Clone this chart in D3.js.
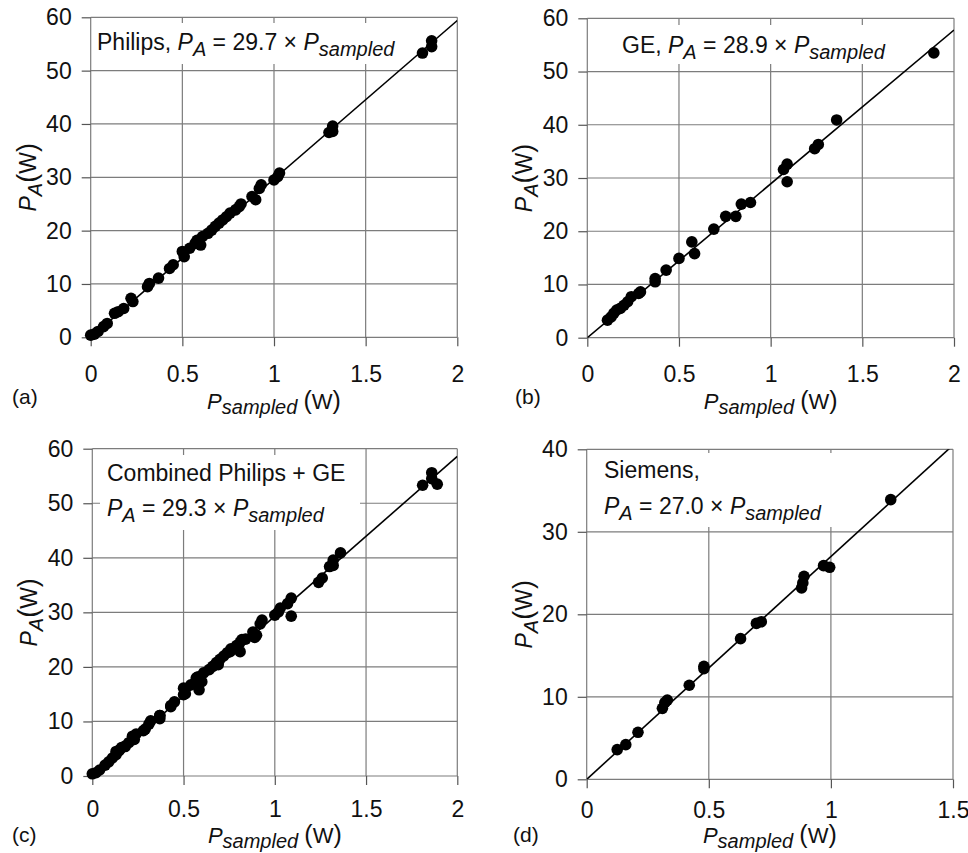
<!DOCTYPE html>
<html>
<head>
<meta charset="utf-8">
<script src="https://cdn.jsdelivr.net/npm/d3@7"></script>
<style>
  body { margin: 0; background: #fff; }
  svg { display: block; font-family: "Liberation Sans", Arial, sans-serif; }
  text { white-space: pre; }
</style>
</head>
<body>
<svg width="968" height="853"></svg>
<script>
// measured points, [P_sampled (W), P_A (W)]
var philips = [
  [0.00, 0.4], [0.02, 0.6], [0.04, 1.1], [0.07, 2.0], [0.09, 2.6],
  [0.13, 4.5], [0.15, 4.8], [0.18, 5.4], [0.22, 7.3], [0.23, 6.7],
  [0.31, 9.5], [0.32, 10.1], [0.37, 11.1], [0.43, 12.9], [0.45, 13.6],
  [0.50, 16.1], [0.51, 15.1], [0.54, 16.7], [0.57, 17.6], [0.58, 18.2],
  [0.60, 17.3], [0.61, 18.9], [0.64, 19.5], [0.66, 20.1], [0.68, 20.8],
  [0.70, 21.4], [0.72, 22.0], [0.74, 22.6], [0.76, 23.3], [0.79, 23.9],
  [0.81, 24.5], [0.82, 25.0], [0.88, 26.4], [0.90, 25.8], [0.92, 27.9],
  [0.93, 28.6], [1.00, 29.5], [1.02, 30.1], [1.03, 30.8], [1.30, 38.4],
  [1.32, 38.6], [1.32, 39.6], [1.81, 53.3], [1.86, 54.5], [1.86, 55.6]
];
var ge = [
  [0.11, 3.3], [0.13, 3.9], [0.145, 4.6], [0.16, 5.2], [0.18, 5.5],
  [0.20, 6.1], [0.22, 6.75], [0.24, 7.7], [0.28, 8.3], [0.29, 8.6],
  [0.37, 11.1], [0.37, 10.5], [0.43, 12.7], [0.50, 14.9], [0.57, 18.0],
  [0.585, 15.8], [0.69, 20.4], [0.755, 22.8], [0.81, 22.8], [0.84, 25.1],
  [0.89, 25.4], [1.07, 31.6], [1.09, 32.6], [1.09, 29.3], [1.24, 35.5],
  [1.26, 36.3], [1.36, 40.9], [1.89, 53.5]
];
var siemens = [
  [0.125, 3.6], [0.16, 4.2], [0.21, 5.7], [0.31, 8.6], [0.32, 9.3],
  [0.33, 9.6], [0.42, 11.4], [0.48, 13.4], [0.48, 13.7], [0.63, 17.05],
  [0.695, 18.9], [0.715, 19.1], [0.88, 23.2], [0.885, 23.8], [0.89, 24.6],
  [0.97, 25.9], [0.995, 25.7], [1.245, 33.9]
];
var combined = philips.concat(ge);

var slopes = [29.7, 28.9, 29.3, 27.0];
var panelLabels = ["(a)", "(b)", "(c)", "(d)"];
var xTicks2 = [0, 0.5, 1, 1.5, 2];
var xTicks15 = [0, 0.5, 1, 1.5];
var yTicks60 = [0, 10, 20, 30, 40, 50, 60];
var yTicks40 = [0, 10, 20, 30, 40];
// "_" marks a subscript, "P" is italic
var notes = [
  [["Philips, ", "P", "_A", " = 29.7 × ", "P", "_sampled"]],
  [["GE, ", "P", "_A", " = 28.9 × ", "P", "_sampled"]],
  [["Combined Philips + GE"], ["P", "_A", " = 29.3 × ", "P", "_sampled"]],
  [["Siemens,"], ["P", "_A", " = 27.0 × ", "P", "_sampled"]]
];
var xTitle = ["P", "_sampled", " ", "(", "W", ")"];
var yTitle = ["P", "_A", "(", "W", ")"];

// layout of the four panels
var panels = [
  {data: philips, left: 90.7, right: 457.3, top: 17.3, bottom: 337.3, xTicks: xTicks2, yTicks: yTicks60,
   box: [94, 23, 402, 64], noteX: 97, noteY: [50], labelX: 12, labelY: 404, titleY: 409, pad: 19},
  {data: ge, left: 587.3, right: 954, top: 18.3, bottom: 337.7, xTicks: xTicks2, yTicks: yTicks60,
   box: [591, 25, 890, 64], noteX: 622, noteY: [53], labelX: 515, labelY: 404, titleY: 409, pad: 19},
  {data: combined, left: 92.3, right: 457.3, top: 448.7, bottom: 776, xTicks: xTicks2, yTicks: yTicks60,
   box: [100, 455, 360, 530], noteX: 107, noteY: [481, 516], labelX: 12, labelY: 842, titleY: 843, pad: 16},
  {data: siemens, left: 586.7, right: 953, top: 449.3, bottom: 779.3, xTicks: xTicks15, yTicks: yTicks40,
   box: [590, 453, 840, 527], noteX: 604, noteY: [478, 514], labelX: 513, labelY: 842, titleY: 843, pad: 13}
];

var svg = d3.select("svg");
var ink = "#111";
var gridColor = "#7c7c7c";
var fmt = d3.format("~g");

function rich(sel, segs, size, subSize, subShift, bigSize) {
  var shifted = false;
  segs.forEach(function(s) {
    var isSub = s.charAt(0) === "_";
    var txt = isSub ? s.slice(1) : s;
    var t = sel.append("tspan");
    if (isSub && !shifted) { t.attr("dy", subShift); shifted = true; }
    else if (!isSub && shifted) { t.attr("dy", -subShift); shifted = false; }
    var fs = isSub ? subSize : size;
    if ((txt === "(" || txt === ")") && bigSize) fs = bigSize;
    t.attr("font-size", fs)
      .attr("font-style", (isSub || txt === "P") ? "italic" : "normal")
      .text(txt);
  });
}

panels.forEach(function(p, i) {
  var xmax = d3.max(p.xTicks), ymax = d3.max(p.yTicks);
  var x = d3.scaleLinear().domain([0, xmax]).range([p.left, p.right]);
  var y = d3.scaleLinear().domain([0, ymax]).range([p.bottom, p.top]);
  var g = svg.append("g");

  // grid
  g.append("g").selectAll("line").data(p.xTicks).join("line")
    .attr("x1", x).attr("x2", x).attr("y1", p.top).attr("y2", p.bottom)
    .attr("stroke", gridColor).attr("stroke-width", 1.2);
  g.append("g").selectAll("line").data(p.yTicks).join("line")
    .attr("y1", y).attr("y2", y).attr("x1", p.left).attr("x2", p.right)
    .attr("stroke", gridColor).attr("stroke-width", 1.2);

  // ticks and labels
  var gx = g.append("g").attr("transform", "translate(0," + p.bottom + ")")
    .call(d3.axisBottom(x).tickValues(p.xTicks).tickSize(9).tickPadding(p.pad).tickFormat(fmt));
  var gy = g.append("g").attr("transform", "translate(" + p.left + ",0)")
    .call(d3.axisLeft(y).tickValues(p.yTicks).tickSize(9).tickPadding(10).tickFormat(fmt));
  [gx, gy].forEach(function(a) {
    a.select(".domain").remove();
    a.selectAll("line").attr("stroke", "#555").attr("stroke-width", 1.2);
    a.selectAll("text").attr("fill", ink).attr("font-size", 23)
      .attr("font-family", "'Liberation Sans', Arial, sans-serif");
  });

  // note box hides the grid behind the text
  g.append("rect")
    .attr("x", p.box[0]).attr("y", p.box[1])
    .attr("width", p.box[2] - p.box[0]).attr("height", p.box[3] - p.box[1])
    .attr("fill", "#fff");
  notes[i].forEach(function(line, k) {
    var t = g.append("text").attr("x", p.noteX).attr("y", p.noteY[k]).attr("fill", ink);
    rich(t, line, 23, 20, 6);
  });

  // fitted line
  var clipId = "clip" + i;
  svg.append("clipPath").attr("id", clipId).append("rect")
    .attr("x", p.left).attr("y", p.top)
    .attr("width", p.right - p.left).attr("height", p.bottom - p.top);
  var fit = d3.line().x(function(d) { return x(d[0]); }).y(function(d) { return y(d[1]); });
  g.append("path")
    .datum([[0, 0], [xmax, slopes[i] * xmax]])
    .attr("clip-path", "url(#" + clipId + ")")
    .attr("d", fit)
    .attr("fill", "none").attr("stroke", "#000").attr("stroke-width", 1.6);

  // points
  g.append("g").selectAll("circle").data(p.data).join("circle")
    .attr("cx", function(d) { return x(d[0]); })
    .attr("cy", function(d) { return y(d[1]); })
    .attr("r", 5.8)
    .attr("fill", "#000");

  // axis titles
  var xt = g.append("text")
    .attr("x", (p.left + p.right) / 2).attr("y", p.titleY)
    .attr("text-anchor", "middle").attr("fill", ink);
  rich(xt, xTitle, 22, 20, 5, 25);

  var yt = g.append("text")
    .attr("transform", "translate(" + (p.left - 55) + "," + ((p.top + p.bottom) / 2) + ") rotate(-90)")
    .attr("text-anchor", "middle").attr("fill", ink);
  rich(yt, yTitle, 23, 20, 6, 27);

  // panel letter
  g.append("text")
    .attr("x", p.labelX).attr("y", p.labelY)
    .attr("font-size", 21).attr("fill", ink)
    .text(panelLabels[i]);
});
</script>
</body>
</html>
